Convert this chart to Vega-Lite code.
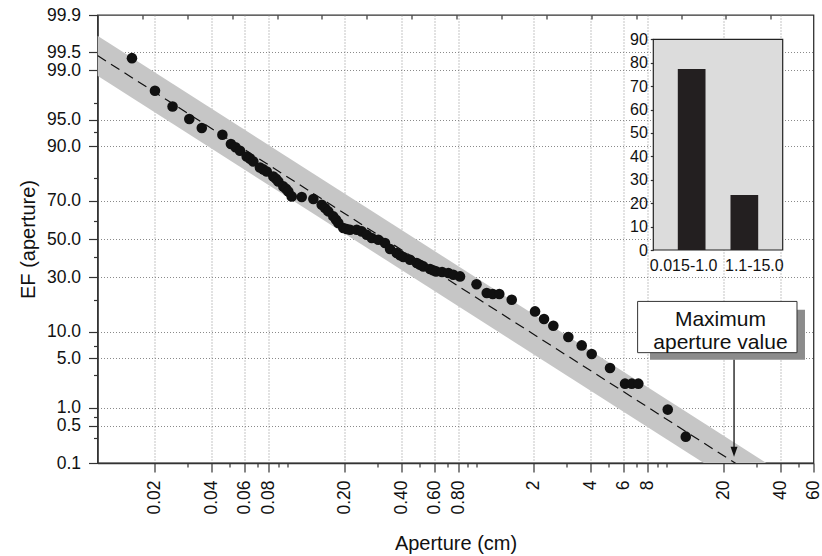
{
  "$schema": "https://vega.github.io/schema/vega-lite/v6.json",
  "width": 716,
  "height": 448,
  "autosize": {"type": "none"},
  "padding": {"left": 97.5, "top": 15, "right": 8.5, "bottom": 93},
  "config": {
    "font": "Liberation Sans",
    "view": {"stroke": "#333", "strokeWidth": 1.3},
    "axis": {"labelColor": "#111", "titleColor": "#111", "domainColor": "#333", "tickColor": "#333", "titleFontWeight": "normal", "domainWidth": 1.5, "tickWidth": 1.2, "labelOverlap": false, "labelBound": false, "labelFlush": false}
  },
  "layer": [
    {
      "layer": [
        {
          "data": {"values": [{"x": 0.01, "ef_hi": 99.748, "ef_lo": 98.784}, {"x": 60, "ef_hi": 0.0228, "ef_lo": 0.00249}]},
          "transform": [
            {"calculate": "quantileNormal(datum.ef_hi/100)", "as": "z_hi"},
            {"calculate": "quantileNormal(datum.ef_lo/100)", "as": "z_lo"}
          ],
          "mark": {"type": "area", "color": "#c6c6c6", "clip": true},
          "encoding": {
            "x": {"field": "x", "type": "quantitative", "scale": {"type": "log", "domain": [0.01, 60], "nice": false}},
            "y": {"field": "z_hi", "type": "quantitative", "scale": {"domain": [-3.0902, 3.0902], "nice": false, "zero": false}},
            "y2": {"field": "z_lo"}
          }
        },
        {
          "data": {"values": [{"x": 0.01, "ef": 99.43}, {"x": 60, "ef": 0.0078}]},
          "transform": [{"calculate": "quantileNormal(datum.ef/100)", "as": "z"}],
          "mark": {"type": "line", "color": "#111", "strokeDash": [10, 6], "strokeWidth": 1.2, "clip": true},
          "encoding": {
            "x": {"field": "x", "type": "quantitative", "scale": {"type": "log", "domain": [0.01, 60], "nice": false}},
            "y": {"field": "z", "type": "quantitative", "scale": {"domain": [-3.0902, 3.0902], "nice": false, "zero": false}}
          }
        },
        {
          "data": {"values": [
            {"ap": 0.0152, "ef": 99.37}, {"ap": 0.0201, "ef": 97.96}, {"ap": 0.0249, "ef": 96.63}, {"ap": 0.0305, "ef": 95.11},
            {"ap": 0.0355, "ef": 93.71}, {"ap": 0.0456, "ef": 92.49}, {"ap": 0.0506, "ef": 90.49}, {"ap": 0.0535, "ef": 89.73},
            {"ap": 0.0565, "ef": 88.84}, {"ap": 0.0613, "ef": 87.27}, {"ap": 0.0638, "ef": 86.6}, {"ap": 0.0664, "ef": 85.77},
            {"ap": 0.072, "ef": 83.83}, {"ap": 0.075, "ef": 83.15}, {"ap": 0.0782, "ef": 82.44}, {"ap": 0.0847, "ef": 80.6},
            {"ap": 0.0875, "ef": 79.73}, {"ap": 0.09, "ef": 78.64}, {"ap": 0.0956, "ef": 76.59}, {"ap": 0.0988, "ef": 75.61},
            {"ap": 0.1016, "ef": 74.43}, {"ap": 0.1059, "ef": 72.16}, {"ap": 0.1196, "ef": 71.87}, {"ap": 0.1377, "ef": 70.95},
            {"ap": 0.1524, "ef": 68.19}, {"ap": 0.1587, "ef": 66.55}, {"ap": 0.1652, "ef": 64.84}, {"ap": 0.1755, "ef": 62.25},
            {"ap": 0.1814, "ef": 60.49}, {"ap": 0.1865, "ef": 58.74}, {"ap": 0.1982, "ef": 56.04}, {"ap": 0.2065, "ef": 55.49},
            {"ap": 0.215, "ef": 55.1}, {"ap": 0.2333, "ef": 55.1}, {"ap": 0.2479, "ef": 54.18}, {"ap": 0.2634, "ef": 52.36},
            {"ap": 0.2799, "ef": 50.55}, {"ap": 0.3033, "ef": 49.61}, {"ap": 0.3289, "ef": 47.8}, {"ap": 0.3496, "ef": 44.51},
            {"ap": 0.3792, "ef": 42.35}, {"ap": 0.3948, "ef": 41.16}, {"ap": 0.4109, "ef": 40.2}, {"ap": 0.4458, "ef": 38.76},
            {"ap": 0.4836, "ef": 37.03}, {"ap": 0.5033, "ef": 36.15}, {"ap": 0.5241, "ef": 35.27}, {"ap": 0.5686, "ef": 33.95},
            {"ap": 0.5894, "ef": 33.36}, {"ap": 0.6113, "ef": 32.74}, {"ap": 0.6577, "ef": 32.45}, {"ap": 0.71, "ef": 31.95},
            {"ap": 0.7544, "ef": 31.13}, {"ap": 0.8184, "ef": 30.3}, {"ap": 1.0, "ef": 26.65}, {"ap": 1.132, "ef": 22.81},
            {"ap": 1.218, "ef": 22.4}, {"ap": 1.319, "ef": 22.4}, {"ap": 1.534, "ef": 20.13}, {"ap": 2.036, "ef": 15.9},
            {"ap": 2.271, "ef": 13.5}, {"ap": 2.543, "ef": 11.59}, {"ap": 3.051, "ef": 8.82}, {"ap": 3.59, "ef": 7.11},
            {"ap": 4.054, "ef": 5.64}, {"ap": 5.063, "ef": 3.76}, {"ap": 6.076, "ef": 2.3}, {"ap": 6.592, "ef": 2.3},
            {"ap": 7.143, "ef": 2.3}, {"ap": 10.21, "ef": 0.93}, {"ap": 12.71, "ef": 0.32}
          ]},
          "transform": [{"calculate": "quantileNormal(datum.ef/100)", "as": "z"}],
          "mark": {"type": "circle", "size": 112, "color": "#111", "opacity": 1},
          "encoding": {
            "x": {
              "field": "ap", "type": "quantitative",
              "scale": {"type": "log", "domain": [0.01, 60], "nice": false},
              "title": "Aperture (cm)",
              "axis": {
                "values": [0.02, 0.03, 0.04, 0.05, 0.06, 0.07, 0.08, 0.09, 0.1, 0.2, 0.3, 0.4, 0.5, 0.6, 0.7, 0.8, 0.9, 1, 2, 3, 4, 5, 6, 7, 8, 9, 10, 20, 30, 40, 50, 60],
                "tickCount": 100,
                "labelExpr": "indexof([0.02,0.04,0.06,0.08,0.2,0.4,0.6,0.8,2,4,6,8,20,40,60], datum.value) >= 0 ? (datum.value < 1 ? format(datum.value, '.2f') : format(datum.value, 'd')) : ''",
                "labelAngle": 270,
                "labelAlign": "right",
                "labelBaseline": "middle",
                "labelFontSize": 17.5,
                "labelPadding": 8,
                "labelOverlap": false,
                "labelFlush": false,
                "tickSize": {"condition": {"test": "indexof([0.02,0.04,0.06,0.08,0.2,0.4,0.6,0.8,2,4,6,8,20,40,60], datum.value) >= 0", "value": 9}, "value": 4},
                "grid": true,
                "gridColor": "#8a8a8a",
                "gridDash": [1, 2],
                "gridWidth": 1,
                "gridOpacity": {"condition": {"test": "indexof([0.02,0.04,0.06,0.08,0.2,0.4,0.6,0.8,2,4,6,8,20,40], datum.value) >= 0", "value": 1}, "value": 0},
                "titleFontSize": 20,
                "titlePadding": 19
              }
            },
            "y": {
              "field": "z", "type": "quantitative",
              "scale": {"domain": [-3.0902, 3.0902], "nice": false, "zero": false},
              "title": "EF (aperture)",
              "axis": {
                "values": [-3.0902, -2.7478, -2.5758, -2.4573, -2.3263, -1.8808, -1.6449, -1.4758, -1.2816, -0.8416, -0.5244, -0.2533, 0, 0.2533, 0.5244, 0.8416, 1.2816, 1.4758, 1.6449, 1.8808, 2.3263, 2.5758, 3.0902],
                "tickCount": 100,
                "labelExpr": "indexof([0.1,0.5,1,5,10,30,50,70,90,95,99,99.5,99.9], round(cumulativeNormal(datum.value)*1000)/10) >= 0 ? format(round(cumulativeNormal(datum.value)*1000)/10, '.1f') : ''",
                "labelFontSize": 17.5,
                "labelPadding": 8,
                "labelOverlap": false,
                "labelFlush": false,
                "labelBound": false,
                "tickSize": {"condition": {"test": "indexof([0.1,0.5,1,5,10,30,50,70,90,95,99,99.5,99.9], round(cumulativeNormal(datum.value)*1000)/10) >= 0", "value": 9}, "value": 4},
                "grid": true,
                "gridColor": "#8a8a8a",
                "gridDash": [1, 2],
                "gridWidth": 1,
                "gridOpacity": {"condition": {"test": "indexof([0.5,1,5,10,30,50,70,90,95,99,99.5], round(cumulativeNormal(datum.value)*1000)/10) >= 0", "value": 1}, "value": 0},
                "titleFontSize": 20,
                "titlePadding": 8
              }
            }
          }
        },
        {
          "data": {"values": [{}]},
          "mark": {"type": "rect", "fill": "#8c8c8c"},
          "encoding": {
            "x": {"datum": 8.23, "type": "quantitative", "scale": {"type": "log", "domain": [0.01, 60], "nice": false}},
            "x2": {"datum": 54.1},
            "y": {"datum": -0.975, "type": "quantitative", "scale": {"domain": [-3.0902, 3.0902], "nice": false, "zero": false}},
            "y2": {"datum": -1.665}
          }
        },
        {
          "data": {"values": [{}]},
          "mark": {"type": "rect", "fill": "#ffffff", "stroke": "#333", "strokeWidth": 1},
          "encoding": {
            "x": {"datum": 7.08, "type": "quantitative", "scale": {"type": "log", "domain": [0.01, 60], "nice": false}},
            "x2": {"datum": 49.1},
            "y": {"datum": -0.861, "type": "quantitative", "scale": {"domain": [-3.0902, 3.0902], "nice": false, "zero": false}},
            "y2": {"datum": -1.568}
          }
        },
        {
          "data": {"values": [{}]},
          "mark": {"type": "text", "text": ["Maximum", "aperture value"], "fontSize": 21, "lineHeight": 22.6, "align": "center", "baseline": "alphabetic", "color": "#111"},
          "encoding": {
            "x": {"datum": 19.37, "type": "quantitative", "scale": {"type": "log", "domain": [0.01, 60], "nice": false}},
            "y": {"datum": -1.2055, "type": "quantitative", "scale": {"domain": [-3.0902, 3.0902], "nice": false, "zero": false}}
          }
        },
        {
          "data": {"values": [{}]},
          "mark": {"type": "rule", "color": "#111", "strokeWidth": 1.3},
          "encoding": {
            "x": {"datum": 22.85, "type": "quantitative", "scale": {"type": "log", "domain": [0.01, 60], "nice": false}},
            "y": {"datum": -1.665, "type": "quantitative", "scale": {"domain": [-3.0902, 3.0902], "nice": false, "zero": false}},
            "y2": {"datum": -2.906}
          }
        },
        {
          "data": {"values": [{}]},
          "mark": {"type": "point", "shape": "M-0.7,-1L0.7,-1L0,1Z", "size": 100, "filled": true, "color": "#111", "opacity": 1},
          "encoding": {
            "x": {"datum": 22.85, "type": "quantitative", "scale": {"type": "log", "domain": [0.01, 60], "nice": false}},
            "y": {"datum": -2.934, "type": "quantitative", "scale": {"domain": [-3.0902, 3.0902], "nice": false, "zero": false}}
          }
        }
      ]
    },
    {
      "data": {"values": [{}]},
      "mark": {"type": "point", "opacity": 0},
      "encoding": {
        "x": {"datum": 0, "type": "quantitative", "scale": {"domain": [0, 15.95], "nice": false, "zero": false},
              "axis": {"orient": "top", "values": [1, 2, 3, 4, 5, 6, 7, 8, 9, 10, 11, 12, 13, 14, 15], "tickCount": 100, "labels": false, "domain": false, "tickSize": -4, "grid": false, "title": null}}
      }
    },
    {
      "data": {"values": [{}]},
      "mark": {"type": "rect", "fill": "#dcdcdc", "stroke": "#222", "strokeWidth": 1.2},
      "encoding": {
        "x": {"datum": 0, "type": "quantitative", "scale": {"domain": [0, 1], "range": [555.8, 685.2], "nice": false, "zero": false}, "axis": null},
        "x2": {"datum": 1},
        "y": {"datum": 0, "type": "quantitative", "scale": {"domain": [0, 90], "range": [235, 24.3], "nice": false}, "axis": null},
        "y2": {"datum": 90}
      }
    },
    {
      "data": {"values": [{"range": "0.015-1.0", "pct": 77.3}, {"range": "1.1-15.0", "pct": 23.5}]},
      "mark": {"type": "bar", "color": "#231f20"},
      "encoding": {
        "x": {
          "field": "range", "type": "nominal", "sort": null,
          "scale": {"type": "band", "range": [555.8, 685.2], "paddingInner": 0.474, "paddingOuter": 0.465},
          "axis": {"orient": "bottom", "offset": -213, "labelAngle": 0, "domain": false, "ticks": false, "labelFontSize": 16, "labelPadding": 7, "labelOverlap": false, "labelBound": false,
                   "labelOffset": {"condition": {"test": "datum.value == '0.015-1.0'", "value": -8}, "value": 10},
                   "title": null, "grid": false}
        },
        "y": {
          "field": "pct", "type": "quantitative",
          "scale": {"domain": [0, 90], "range": [235, 24.3], "nice": false},
          "axis": {"orient": "left", "offset": -555.8, "values": [0, 10, 20, 30, 40, 50, 60, 70, 80, 90], "tickCount": 100, "tickSize": 3, "domain": false, "labelFontSize": 16, "labelPadding": 3, "title": null, "grid": false}
        }
      }
    }
  ],
  "resolve": {"scale": {"x": "independent", "y": "independent"}, "axis": {"x": "independent", "y": "independent"}}
}
